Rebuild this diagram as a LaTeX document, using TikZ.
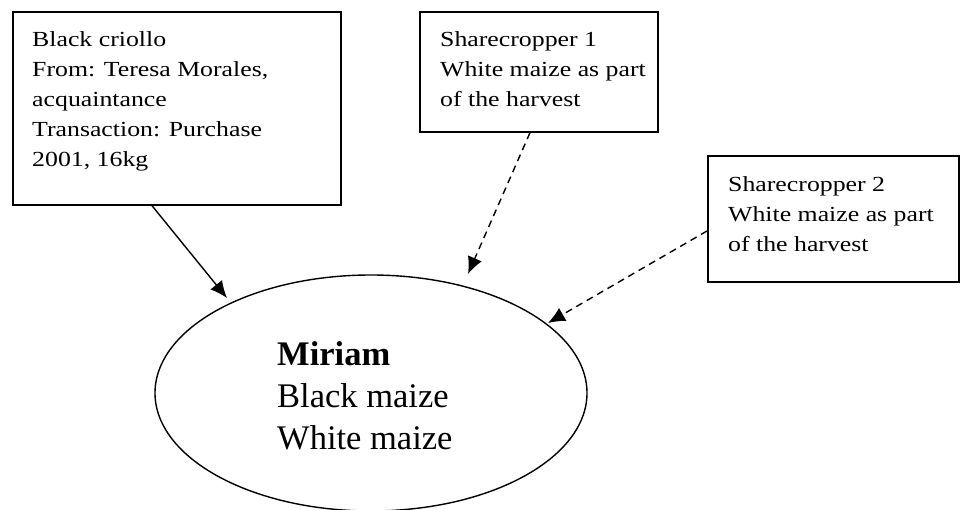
\documentclass[tikz,border=0pt]{standalone}
\usepackage{fontspec}
\setmainfont{Liberation Serif}
\newfontfamily\boxfont[FakeStretch=1.2]{Liberation Serif}
\usetikzlibrary{shapes.geometric,arrows.meta,calc}
\begin{document}
\begin{tikzpicture}[x=1pt,y=-1pt,
  box/.style={draw,line width=1.7pt,rectangle,inner sep=0pt,anchor=north west},
  small/.style={anchor=base west,inner sep=0pt,align=left,font=\boxfont\fontsize{21.5}{30}\selectfont},
  big/.style={anchor=base west,inner sep=0pt,align=left,font=\fontsize{34.5}{42.5}\selectfont},
  arr/.style={line width=1.4pt,-{Latex[length=17pt,width=15pt]}},
  darr/.style={arr,dash pattern=on 7pt off 5pt}]
\clip (0,0) rectangle (967,510);
\useasboundingbox (0,0) rectangle (967,510);
\node[box,minimum width=328pt,minimum height=193pt] (b1) at (12,11) {};
\node[box,minimum width=238pt,minimum height=120pt] (b2) at (419,11) {};
\node[box,minimum width=251pt,minimum height=126pt] (b3) at (707,155) {};
\node[draw,ellipse,line width=1.4pt,minimum width=432pt,minimum height=236pt,inner sep=0pt] (ell) at (371,393) {};
\node[small] (t1) at (32,167) {Black criollo\\From: Teresa Morales,\\acquaintance\\Transaction: Purchase\\2001, 16kg};
\node[small] (t2) at (440,107) {Sharecropper 1\\White maize as part\\of the harvest};
\node[small] (t3) at (728,252) {Sharecropper 2\\White maize as part\\of the harvest};
\node[big] (t4) at (277,450) {\textbf{Miriam}\\Black maize\\White maize};
\coordinate (e1) at (227,298);
\coordinate (e2) at (468,274);
\coordinate (e3) at (548,323);
\draw[arr] ($(b1.south west)+(140,0)$) -- (e1);
\draw[darr] ($(b2.south west)+(111,0)$) -- (e2);
\draw[darr] ($(b3.north west)+(0,76)$) -- (e3);
\end{tikzpicture}
\end{document}
